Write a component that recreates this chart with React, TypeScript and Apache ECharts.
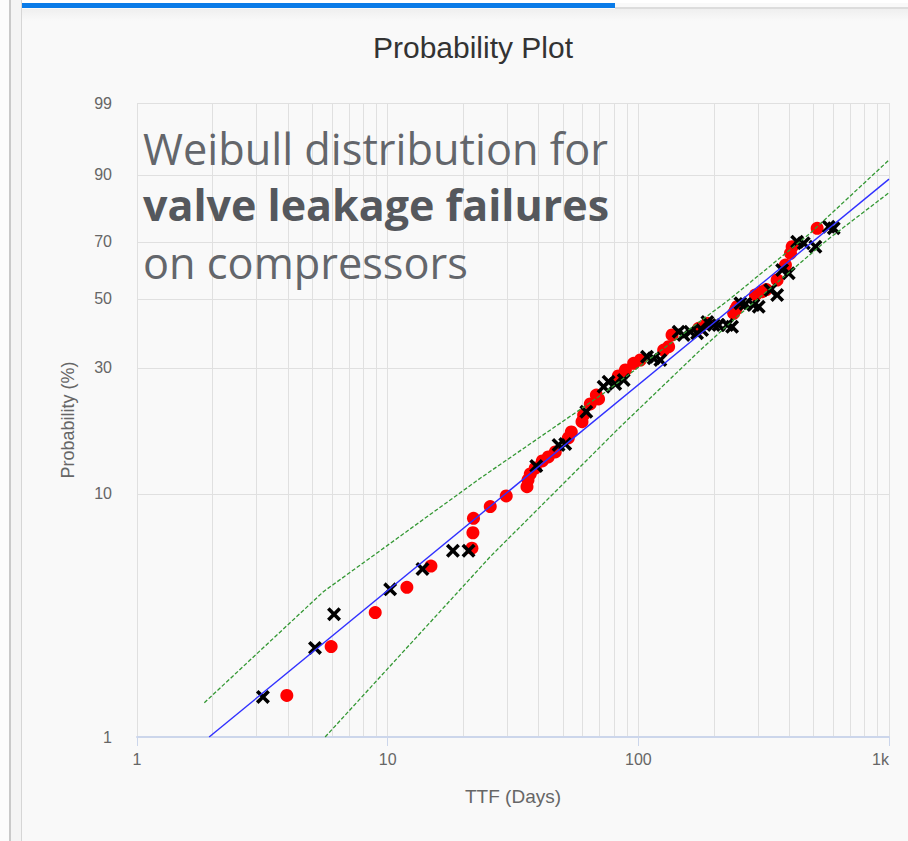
import React, { useEffect, useRef } from 'react';
import * as echarts from 'echarts';

// ---- data (TTF in days, probability in %) ----
const yTickProb = [1, 10, 30, 50, 70, 90, 99];
const yTickLabels = ['1', '10', '30', '50', '70', '90', '99'];

const redTTF = [3.96, 5.95, 8.92, 11.93, 14.88, 21.68, 21.88, 22.0, 25.66, 29.72, 35.96, 36.29, 37.06, 38.8, 41.39, 43.72, 46.63, 52.56, 54.03, 59.6, 60.5, 64.3, 68.0, 69.4, 83.2, 88.8, 95.8, 101.9, 126.2, 132.1, 136.3, 174.1, 188.1, 240.1, 243.9, 247.7, 293.2, 311.8, 324.3, 357.9, 386.3, 404.5, 410.8, 516.9];
const redProb = [1.49, 2.38, 3.29, 4.18, 5.11, 6.04, 6.98, 7.98, 8.9, 9.81, 10.68, 11.35, 11.99, 12.65, 13.48, 13.97, 14.61, 16.54, 17.44, 19.07, 20.21, 22.21, 23.96, 23.17, 28.05, 29.45, 31.07, 31.9, 34.5, 35.4, 38.69, 40.66, 42.18, 45.3, 46.36, 47.44, 51.33, 52.45, 53.2, 56.5, 61.79, 65.95, 68.29, 74.64];

const xTTF = [3.18, 5.13, 6.11, 10.23, 13.77, 18.21, 21.02, 39.16, 48.06, 51.1, 62.0, 72.7, 76.1, 80.9, 87.4, 108.3, 115.1, 122.4, 144.8, 151.6, 161.3, 171.5, 179.6, 188.6, 199.8, 209.2, 226.0, 236.6, 255.4, 267.4, 287.8, 302.2, 336.5, 357.9, 374.7, 398.1, 430.1, 457.1, 508.8, 575.0, 602.0];
const xProb = [1.47, 2.35, 3.24, 4.1, 4.97, 5.9, 5.9, 12.88, 15.55, 15.68, 20.79, 25.68, 26.77, 26.27, 27.14, 32.74, 32.33, 31.9, 39.65, 38.69, 39.65, 39.18, 40.15, 42.57, 41.66, 41.66, 41.66, 41.15, 48.55, 48.32, 47.99, 47.44, 53.03, 51.33, 60.03, 58.86, 70.04, 69.48, 68.29, 75.18, 74.64];

const fitTTF = [1.94, 1000];
const fitProb = [1.0, 89.0];
const upperTTF = [1.856, 5.54, 17.76, 23.4, 72.7, 229.3, 486.0, 1000];
const upperProb = [1.39, 4.01, 9.45, 11.53, 24.31, 49.64, 73.05, 92.97];
const lowerTTF = [5.63, 25.66, 39.4, 84.8, 176.8, 247.7, 566.6, 1000];
const lowerProb = [1.0, 5.58, 8.62, 18.26, 34.5, 44.23, 70.63, 85.56];

// Weibull probability-paper transform
const wb = (p: number) => Math.log(-Math.log(1 - p / 100));
const pairs = (t: number[], p: number[]) => t.map((v, i) => [v, wb(p[i])]);

const AXIS_FONT = '"Liberation Sans", Arial, sans-serif';
const X_SYMBOL = 'path://M1.8,0L5,3.2L8.2,0L10,1.8L6.8,5L10,8.2L8.2,10L5,6.8L1.8,10L0,8.2L3.2,5L0,1.8Z';
const GRID = '#e0e0e0';

export default function App() {
  const ref = useRef<HTMLDivElement>(null);
  useEffect(() => {
    const chart = echarts.init(ref.current!, null, { renderer: 'svg' });
    chart.setOption({
      animation: false,
      backgroundColor: 'transparent',
      title: {
        text: 'Probability Plot',
        left: 468,
        textAlign: 'center',
        top: 27,
        textStyle: { fontFamily: AXIS_FONT, fontSize: 30, fontWeight: 'normal', color: '#333333' },
      },
      grid: { left: 137, right: 19, top: 103, bottom: 104, containLabel: false },
      xAxis: {
        type: 'log',
        logBase: 10,
        min: 1,
        max: 1000,
        splitNumber: 3,
        name: 'TTF (Days)',
        nameLocation: 'middle',
        nameGap: 50,
        nameTextStyle: { color: '#666666', fontSize: 19, fontFamily: AXIS_FONT },
        axisLine: { onZero: false, lineStyle: { color: '#ccd6eb', width: 2 } },
        axisTick: { show: true, length: 9, lineStyle: { color: '#ccd6eb' } },
        axisLabel: {
          color: '#666666',
          fontSize: 16,
          fontFamily: AXIS_FONT,
          margin: 14,
          alignMaxLabel: 'right',
          formatter: (v: number) => (v >= 1000 ? '1k' : String(Math.round(v))),
        },
        splitLine: { show: true, lineStyle: { color: GRID, width: 1 } },
        minorTick: { show: false, splitNumber: 9 },
        minorSplitLine: { show: true, lineStyle: { color: GRID, width: 1 } },
      },
      yAxis: {
        type: 'value',
        min: wb(1),
        max: wb(99),
        name: 'Probability (%)',
        nameLocation: 'middle',
        nameRotate: 90,
        nameGap: 60,
        nameTextStyle: { color: '#666666', fontSize: 18, fontFamily: AXIS_FONT },
        axisLine: { show: false },
        axisTick: { show: false },
        axisLabel: { show: false },
        splitLine: { show: false },
      },
      graphic: [
        {
          type: 'text', x: 143, y: 148, z: 100,
          style: { text: 'Weibull distribution for', font: '43.3px "Open Sans"', fill: '#63666b', verticalAlign: 'middle' },
        },
        {
          type: 'text', x: 143, y: 204, z: 100,
          style: { text: 'valve leakage failures', font: 'bold 43px "Open Sans"', fill: '#55585d', verticalAlign: 'middle' },
        },
        {
          type: 'text', x: 143, y: 262, z: 100,
          style: { text: 'on compressors', font: '43.3px "Open Sans"', fill: '#63666b', verticalAlign: 'middle' },
        },
      ],
      series: [
        {
          type: 'custom',
          name: 'yTicks',
          silent: true,
          clip: false,
          z: 1,
          data: yTickProb.map((p) => [1, wb(p)]),
          renderItem: (params: any, api: any) => {
            const pt = api.coord([1, api.value(1)]);
            const cs = params.coordSys;
            const y = Math.round(pt[1]) + 0.5;
            const children: any[] = [];
            if (params.dataIndex > 0) {
              children.push({
                type: 'line',
                shape: { x1: cs.x, y1: y, x2: cs.x + cs.width, y2: y },
                style: { stroke: GRID, lineWidth: 1 },
              });
            }
            children.push({
              type: 'text',
              style: {
                text: yTickLabels[params.dataIndex],
                x: cs.x - 25,
                y: pt[1],
                align: 'right',
                verticalAlign: 'middle',
                fill: '#666666',
                font: '16px ' + AXIS_FONT,
              },
            });
            return { type: 'group', children };
          },
        },
        {
          type: 'scatter',
          name: 'Failures',
          symbol: 'circle',
          symbolSize: 13,
          z: 3,
          itemStyle: { color: '#ff0000', opacity: 1 },
          data: pairs(redTTF, redProb),
        },
        {
          type: 'scatter',
          name: 'Suspensions',
          symbol: X_SYMBOL,
          symbolSize: 14,
          z: 4,
          itemStyle: { color: '#000000', opacity: 1 },
          data: pairs(xTTF, xProb),
        },
        {
          type: 'line',
          name: 'Fit',
          symbol: 'none',
          z: 5,
          lineStyle: { color: '#3030ff', width: 1.4 },
          data: pairs(fitTTF, fitProb),
        },
        {
          type: 'line',
          name: 'Upper bound',
          symbol: 'none',
          z: 5,
          lineStyle: { color: '#349834', width: 1.3, type: [4, 2] },
          data: pairs(upperTTF, upperProb),
        },
        {
          type: 'line',
          name: 'Lower bound',
          symbol: 'none',
          z: 5,
          lineStyle: { color: '#349834', width: 1.3, type: [4, 2] },
          data: pairs(lowerTTF, lowerProb),
        },
      ],
    });
    return () => chart.dispose();
  }, []);

  return (
    <div style={{ position: 'fixed', left: 0, top: 0, width: 908, height: 841, background: '#f9f9f9', overflow: 'hidden' }}>
      <div style={{ position: 'absolute', left: 0, top: 0, width: 908, height: 3, background: '#ffffff' }} />
      <div style={{ position: 'absolute', left: 0, top: 0, width: 9, height: 841, background: '#fcfcfc' }} />
      <div style={{ position: 'absolute', left: 9, top: 0, width: 2, height: 841, background: '#c9c9c9' }} />
      <div style={{ position: 'absolute', left: 11, top: 0, width: 10, height: 841, background: '#f4f4f4' }} />
      <div style={{ position: 'absolute', left: 21, top: 0, width: 1, height: 841, background: '#d6d6d6' }} />
      <div style={{ position: 'absolute', left: 22, top: 3, width: 593, height: 5, background: '#0a7be8' }} />
      <div style={{ position: 'absolute', left: 615, top: 7, width: 293, height: 2, background: '#dcdcdc' }} />
      <div style={{ position: 'absolute', left: 22, top: 9, width: 886, height: 12, background: 'linear-gradient(#efefef, #f9f9f9)' }} />
      <div ref={ref} style={{ position: 'absolute', left: 0, top: 0, width: 908, height: 841 }} />
    </div>
  );
}
